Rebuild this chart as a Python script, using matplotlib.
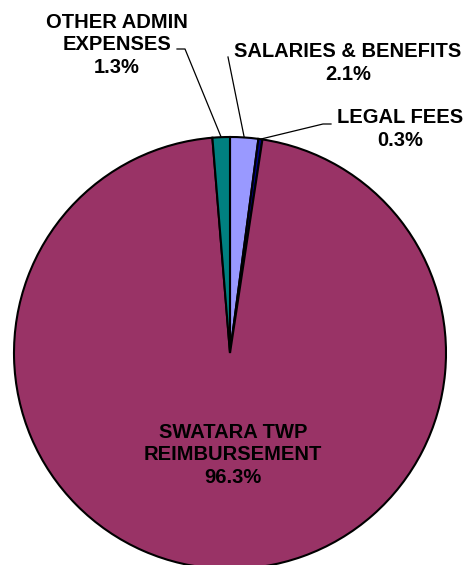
import numpy as np
import matplotlib.pyplot as plt

labels = ['SALARIES & BENEFITS', 'LEGAL FEES', 'SWATARA TWP\nREIMBURSEMENT', 'OTHER ADMIN\nEXPENSES']
shares = [2.1, 0.3, 96.3, 1.3]
colors = ['#9999FF', '#000080', '#993366', '#008080']

plt.rcParams['font.family'] = ['Liberation Sans', 'DejaVu Sans']

fig = plt.figure(figsize=(4.66, 5.65), dpi=100)
ax = fig.add_axes([0, 0, 1, 1])

cx, cy, r = 230, 565 - 353, 216
wedges, _ = ax.pie(shares, colors=colors, startangle=90, counterclock=False,
                   center=(cx, cy), radius=r, frame=True,
                   wedgeprops=dict(edgecolor='black', linewidth=1.5))
ax.set_xlim(0, 466)
ax.set_ylim(0, 565)
ax.set_aspect('equal')
ax.axis('off')

def edge_point(w):
    a = np.deg2rad((w.theta1 + w.theta2) / 2)
    return cx + r * np.cos(a), cy + r * np.sin(a)

fs = 14.5
ls = 1.25
# salaries
x0, y0 = edge_point(wedges[0])
ax.plot([x0, 228], [y0, 565 - 57], color='black', lw=0.9)
ax.text(348, 565 - 63, f'{labels[0]}\n{shares[0]}%', ha='center', va='center',
        fontsize=fs, fontweight='bold', linespacing=ls)
# legal
x0, y0 = edge_point(wedges[1])
ax.plot([x0, 323, 331], [y0, 565 - 124, 565 - 124], color='black', lw=0.9)
ax.text(400, 565 - 129, f'{labels[1]}\n{shares[1]}%', ha='center', va='center',
        fontsize=fs, fontweight='bold', linespacing=ls)
# other admin
x0, y0 = edge_point(wedges[3])
ax.plot([x0, 185, 177], [y0, 565 - 49, 565 - 49], color='black', lw=0.9)
ax.text(117, 565 - 45, f'{labels[3]}\n{shares[3]}%', ha='center', va='center',
        fontsize=fs, fontweight='bold', linespacing=ls)
# swatara
ax.text(233, 565 - 455, f'{labels[2]}\n{shares[2]}%', ha='center', va='center',
        fontsize=fs, fontweight='bold', linespacing=ls)

fig.savefig('out.png', dpi=100)
